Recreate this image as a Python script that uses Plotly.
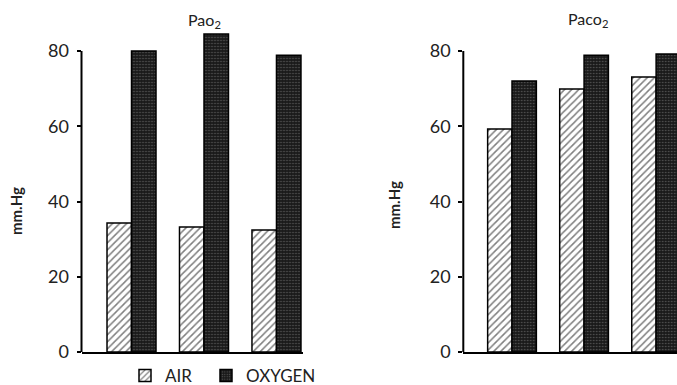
import plotly.graph_objects as go

groups = [1, 2, 3]
series_names = ["AIR", "OXYGEN"]
pao2_air = [34.3, 33.2, 32.4]
pao2_oxygen = [80.0, 84.5, 78.9]
paco2_air = [59.3, 69.9, 73.1]
paco2_oxygen = [72.0, 78.9, 79.2]
y_ticks = [0, 20, 40, 60, 80]
panel_titles = ["Pao<sub>2</sub>", "Paco<sub>2</sub>"]
y_title = "mm.Hg"

W, H = 677, 385
FONT = "Lato"

air_marker = dict(color="white", line=dict(color="black", width=1.5),
                  pattern=dict(shape="/", fgcolor="black", bgcolor="white", size=5, solidity=0.3))
oxy_marker = dict(color="#1a1a1a", line=dict(color="black", width=1.5),
                  pattern=dict(shape=".", fgcolor="#9a9a9a", bgcolor="#1a1a1a", size=3, solidity=0.2))

fig = go.Figure()
fig.add_trace(go.Bar(x=groups, y=pao2_air, name=series_names[0], marker=air_marker,
                     xaxis="x", yaxis="y", legendgroup="a", legend="legend"))
fig.add_trace(go.Bar(x=groups, y=pao2_oxygen, name=series_names[1], marker=oxy_marker,
                     xaxis="x", yaxis="y", legendgroup="o", legend="legend2"))
fig.add_trace(go.Bar(x=groups, y=paco2_air, name=series_names[0], marker=air_marker,
                     xaxis="x2", yaxis="y2", showlegend=False, legendgroup="a"))
fig.add_trace(go.Bar(x=groups, y=paco2_oxygen, name=series_names[1], marker=oxy_marker,
                     xaxis="x2", yaxis="y2", showlegend=False, legendgroup="o"))

ydom = [33 / H, 1.0]
yrange = [0, (H - 33) / 3.7625]
xcommon = dict(showticklabels=False, ticks="", showgrid=False, zeroline=False, automargin=False,
               showline=True, linecolor="black", linewidth=2)
ycommon = dict(range=yrange, domain=ydom, tickvals=y_ticks, ticks="outside", ticklen=4,
               tickwidth=1.5, tickcolor="black", showgrid=False, zeroline=False, showline=False,
               automargin=False,
               tickfont=dict(family=FONT, size=18, color="#222"), ticklabelstandoff=4)

legend_common = dict(orientation="h", y=1 - 376 / H, xanchor="left", yanchor="middle",
                     font=dict(family=FONT, size=17, color="#222"), bgcolor="rgba(0,0,0,0)",
                     itemwidth=30)

fig.update_layout(
    width=W, height=H, margin=dict(l=0, r=0, t=0, b=0, pad=0, autoexpand=False),
    paper_bgcolor="white", plot_bgcolor="white",
    barmode="group", bargap=0.324, bargroupgap=0,
    xaxis=dict(domain=[81.5 / W, 303 / W], range=[0.31, 3.366], anchor="y", **xcommon),
    yaxis=dict(anchor="x", **ycommon),
    xaxis2=dict(domain=[463.3 / W, 1.0], range=[0.324, 3.29], anchor="y2", **xcommon),
    yaxis2=dict(anchor="x2", **ycommon),
    showlegend=True,
    legend=dict(x=125 / W, **legend_common),
    legend2=dict(x=206 / W, **legend_common),
)

# y axis lines drawn only from 0 to 80, as in the original
for xr, yr in (("x domain", "y"), ("x2 domain", "y2")):
    fig.add_shape(type="line", xref=xr, yref=yr, x0=0, x1=0, y0=y_ticks[0], y1=y_ticks[-1],
                  line=dict(color="black", width=2))

ann = dict(xref="paper", yref="paper", showarrow=False, xanchor="center", yanchor="middle")
fig.add_annotation(text=panel_titles[0], x=204 / W, y=1 - 20 / H,
                   font=dict(family=FONT, size=16, color="#222"), **ann)
fig.add_annotation(text=panel_titles[1], x=588 / W, y=1 - 19 / H,
                   font=dict(family=FONT, size=16, color="#222"), **ann)
fig.add_annotation(text="<b>" + y_title + "</b>", x=16 / W, y=1 - 211 / H, textangle=-90,
                   font=dict(family=FONT, size=15, color="#222"), **ann)
fig.add_annotation(text="<b>" + y_title + "</b>", x=394 / W, y=1 - 205 / H, textangle=-90,
                   font=dict(family=FONT, size=15, color="#222"), **ann)

fig.write_html("out.html", config={"displayModeBar": False},
               post_script="document.body.style.margin='0';document.body.style.overflow='hidden';")
